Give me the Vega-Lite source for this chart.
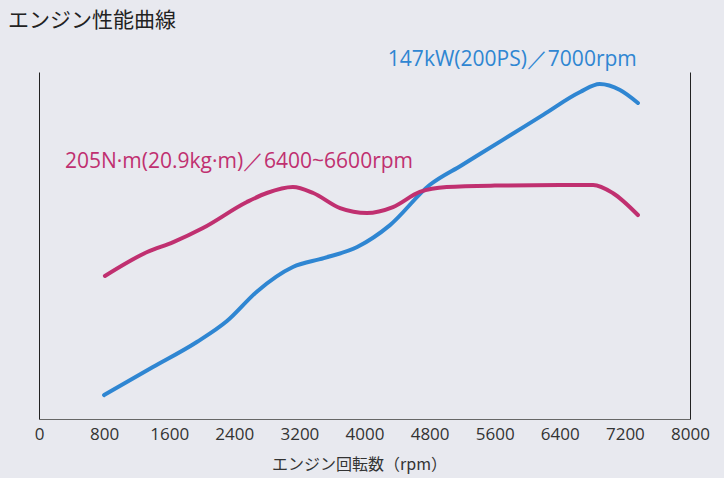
{
  "$schema": "https://vega.github.io/schema/vega-lite/v6.json",
  "autosize": {"type": "none"},
  "width": 651,
  "height": 347,
  "padding": {"left": 39, "top": 72, "right": 34, "bottom": 59},
  "background": "#e8e9ef",
  "config": {"view": {"stroke": null}},
  "title": {
    "text": "エンジン性能曲線",
    "anchor": "start",
    "frame": "group",
    "dx": -31,
    "offset": 18,
    "font": "Noto Sans CJK JP",
    "fontSize": 21,
    "fontWeight": "normal",
    "color": "#222222"
  },
  "layer": [
    {
      "layer": [
        {
          "data": {"values": [
            {"rpm": 800, "kW": 10.5},
            {"rpm": 1400, "kW": 22.8},
            {"rpm": 1940, "kW": 33.8},
            {"rpm": 2310, "kW": 43},
            {"rpm": 2680, "kW": 56},
            {"rpm": 3120, "kW": 66.7},
            {"rpm": 3500, "kW": 70.6},
            {"rpm": 3910, "kW": 75.5},
            {"rpm": 4310, "kW": 85},
            {"rpm": 4800, "kW": 102.7},
            {"rpm": 5200, "kW": 111.5},
            {"rpm": 5700, "kW": 122.5},
            {"rpm": 6200, "kW": 133.6},
            {"rpm": 6650, "kW": 143.5},
            {"rpm": 6890, "kW": 147},
            {"rpm": 7140, "kW": 144.4},
            {"rpm": 7360, "kW": 138.7}
          ]},
          "mark": {"type": "line", "interpolate": "monotone", "color": "#2f86d2", "strokeWidth": 4, "strokeCap": "round"},
          "encoding": {
            "x": {
              "field": "rpm", "type": "quantitative",
              "scale": {"domain": [0, 8000], "nice": false},
              "axis": {
                "values": [0, 800, 1600, 2400, 3200, 4000, 4800, 5600, 6400, 7200, 8000],
                "format": "d",
                "grid": false, "ticks": false,
                "domainColor": "#666666", "domainWidth": 1,
                "labelFont": "Open Sans", "labelFontSize": 17, "labelColor": "#333333",
                "labelPadding": 7, "labelFlush": false,
                "title": "エンジン回転数（rpm）",
                "titleFont": "Noto Sans CJK JP", "titleFontSize": 16, "titleFontWeight": "normal",
                "titleColor": "#333333", "titlePadding": 14, "titleX": 320
              }
            },
            "y": {
              "field": "kW", "type": "quantitative",
              "scale": {"domain": [0, 152.3], "nice": false, "zero": true},
              "axis": {"orient": "left", "labels": false, "ticks": false, "grid": false, "title": null, "domainColor": "#222222", "domainWidth": 1}
            }
          }
        },
        {
          "data": {"values": [
            {"rpm": 4287, "kW": 157.5, "label": "147kW(200PS)／7000rpm"}
          ]},
          "mark": {"type": "text", "align": "left", "baseline": "middle", "font": "Open Sans", "fontSize": 21, "color": "#2f86d2"},
          "encoding": {
            "x": {"field": "rpm", "type": "quantitative"},
            "y": {"field": "kW", "type": "quantitative"},
            "text": {"field": "label"}
          }
        }
      ]
    },
    {
      "layer": [
        {
          "data": {"values": [
            {"rpm": 810, "Nm": 125.3},
            {"rpm": 1330, "Nm": 146.3},
            {"rpm": 1650, "Nm": 155},
            {"rpm": 2015, "Nm": 167.3},
            {"rpm": 2555, "Nm": 190.1},
            {"rpm": 2800, "Nm": 198},
            {"rpm": 3120, "Nm": 203.2},
            {"rpm": 3370, "Nm": 198},
            {"rpm": 3700, "Nm": 184.8},
            {"rpm": 4030, "Nm": 180.5},
            {"rpm": 4350, "Nm": 185.7},
            {"rpm": 4680, "Nm": 198.9},
            {"rpm": 5010, "Nm": 203.2},
            {"rpm": 5600, "Nm": 204.5},
            {"rpm": 6400, "Nm": 205},
            {"rpm": 6810, "Nm": 205},
            {"rpm": 7050, "Nm": 198},
            {"rpm": 7360, "Nm": 178.7}
          ]},
          "mark": {"type": "line", "interpolate": "monotone", "color": "#c03070", "strokeWidth": 4, "strokeCap": "round"},
          "encoding": {
            "x": {"field": "rpm", "type": "quantitative"},
            "y": {
              "field": "Nm", "type": "quantitative",
              "scale": {"domain": [0, 304], "nice": false, "zero": true},
              "axis": {"orient": "right", "labels": false, "ticks": false, "grid": false, "title": null, "domainColor": "#222222", "domainWidth": 1}
            }
          }
        },
        {
          "data": {"values": [
            {"rpm": 319, "Nm": 225, "label": "205N·m(20.9kg·m)／6400~6600rpm"}
          ]},
          "mark": {"type": "text", "align": "left", "baseline": "middle", "font": "Open Sans", "fontSize": 21, "color": "#c03070"},
          "encoding": {
            "x": {"field": "rpm", "type": "quantitative"},
            "y": {"field": "Nm", "type": "quantitative"},
            "text": {"field": "label"}
          }
        }
      ]
    }
  ],
  "resolve": {"scale": {"y": "independent"}}
}
